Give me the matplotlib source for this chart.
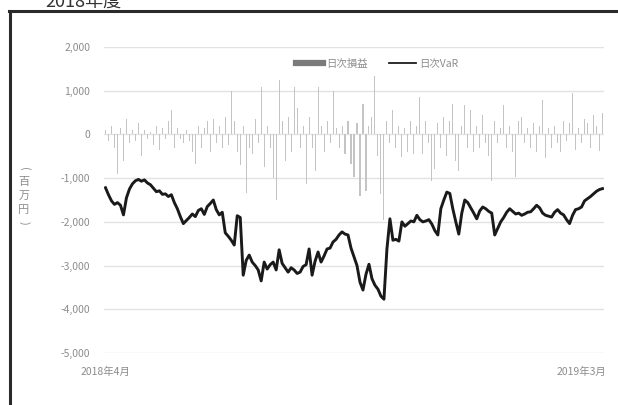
import matplotlib
matplotlib.use("Agg")
import matplotlib.pyplot as plt
from matplotlib.lines import Line2D
import numpy as np

plt.rcParams['font.family'] = ['Noto Sans CJK JP', 'DejaVu Sans']

title = "2018年度"
legend_pnl = "日次損益"
legend_var = "日次VaR"
ylabel_chars = ["(", "百", "万", "円", ")"]
yticks = [2000, 1000, 0, -1000, -2000, -3000, -4000, -5000]
xtick_labels = ["2018年4月", "2019年3月"]

var = [-1220, -1380, -1520, -1600, -1560, -1620, -1840, -1450, -1250, -1130,
       -1060, -1030, -1070, -1040, -1110, -1150, -1230, -1310, -1290, -1370,
       -1360, -1420, -1380, -1560, -1700, -1880, -2040, -1970, -1900, -1820,
       -1880, -1740, -1700, -1830, -1650, -1580, -1500, -1720, -1840, -1780,
       -2250, -2330, -2420, -2530, -1860, -1900, -3220, -2880, -2760, -2920,
       -3000, -3100, -3350, -2920, -3080, -2980, -2920, -3100, -2640, -2950,
       -3050, -3150, -3050, -3100, -3180, -3150, -3020, -2980, -2620, -3220,
       -2900, -2690, -2920, -2780, -2620, -2600, -2460, -2400, -2300, -2230,
       -2280, -2300, -2600, -2800, -3000, -3380, -3560, -3200, -2970, -3300,
       -3450, -3540, -3700, -3770, -2620, -1930, -2420, -2400, -2440, -2000,
       -2100, -2040, -1980, -2000, -1850, -1950, -2000, -1980, -1950, -2050,
       -2200, -2300, -1700, -1500, -1320, -1350, -1700, -2000, -2280, -1800,
       -1500, -1560, -1680, -1800, -1930, -1750, -1660, -1700, -1760, -1800,
       -2300, -2150, -2000, -1900, -1780, -1700, -1760, -1820, -1800, -1850,
       -1820, -1780, -1770, -1700, -1620, -1680, -1800, -1850, -1870, -1890,
       -1780, -1720, -1800, -1840, -1950, -2040, -1850, -1720, -1700, -1660,
       -1520, -1470, -1420, -1360, -1300, -1260, -1240]

pnl = [100, -150, 200, -300, -900, 150, -600, 350, -200, 100,
       -150, 250, -500, 100, -100, 50, -250, 200, -350, 150,
       -100, 300, 570, -300, 150, -100, -200, 100, -150, -400,
       -670, 200, -300, 150, 300, -400, 350, -200, 200, -300,
       400, -250, 1000, 300, -400, -700, 200, -1330, -300, -450,
       350, -200, 1080, -750, 200, -300, -1000, -1500, 1240, 300,
       -600, 400, -400, 1080, 600, -300, 200, -1130, 400, -300,
       -830, 1080, 200, -400, 300, -200, 1000, 150, -300, 200,
       -450, 300, -670, -980, 250, -1400, 700, -1300, 200, 400,
       1340, -500, -1360, -1950, 300, -200, 550, -300, 200, -520,
       150, -400, 300, -450, 200, 860, -450, 300, -200, -1060,
       -800, 250, -300, 400, -500, 300, 700, -600, -830, 200,
       670, -300, 550, -400, 200, -300, 450, -200, -500, -1060,
       300, -200, 150, 670, -300, 200, -400, -980, 300, 400,
       -200, 150, -300, 250, -400, 200, 780, -550, 150, -300,
       200, -200, -400, 300, -150, 250, 940, -350, 150, -200,
       350, 250, -300, 450, 200, -370, 500]

n = len(var)
x = np.arange(n)

fig = plt.figure(figsize=(6.18, 4.05), dpi=100)
ax = fig.add_axes([104/618, 52/405, 500/618, 306/405])

ax.bar(x, pnl[:n], width=0.35, color='#c4c4c4', linewidth=0, zorder=2, label=legend_pnl)
ax.plot(x, var, color='#1a1a1a', lw=2.1, zorder=3, label=legend_var)

ax.set_xlim(-0.5, n - 0.5)
ax.set_ylim(-5000, 2000)
ax.set_yticks(yticks)
ax.set_yticklabels([f"{v:,}" for v in yticks])
ax.set_xticks([0, 159])
ax.set_xticklabels(xtick_labels)
ax.tick_params(axis='both', length=0, labelsize=7.5, labelcolor='#8c8c8c')
ax.tick_params(axis='y', pad=10)
ax.tick_params(axis='x', pad=10)
ax.grid(axis='y', color='#e2e2e2', lw=1.0, zorder=0)
ax.set_axisbelow(True)
for s in ax.spines.values():
    s.set_visible(False)

h1 = Line2D([0], [0], color='#7a7a7a', lw=4.5)
h2 = Line2D([0], [0], color='#1e1e1e', lw=1.3)
fig.legend([h1, h2], [legend_pnl, legend_var], loc='center',
           bbox_to_anchor=(377/618, 1 - 64/405), ncol=2, frameon=False,
           fontsize=7.5, labelcolor='#8c8c8c', handlelength=2.6, columnspacing=2,
           handletextpad=0.3)

# vertical y-axis label, one character per row (brackets turned)
ypix = [169, 182, 196, 210, 223]
for ch, yp in zip(ylabel_chars, ypix):
    rot = 270 if ch in "()" else 0
    fig.text(24/618, 1 - yp/405, ch, ha='center', va='center', fontsize=8,
             color='#8c8c8c', rotation=rot)

fig.text(45/618, 1 - 7/405, title, ha='left', va='baseline', fontsize=13, color='#333333')

fig.add_artist(Line2D([9.5/618, 9.5/618], [0, 1 - 11/405], color='#2a2a2a', lw=2.2,
                      transform=fig.transFigure))
fig.add_artist(Line2D([8.5/618, 1], [1 - 11/405, 1 - 11/405], color='#2a2a2a', lw=2.2,
                      transform=fig.transFigure))

fig.savefig("out.png", dpi=100, facecolor='white')
